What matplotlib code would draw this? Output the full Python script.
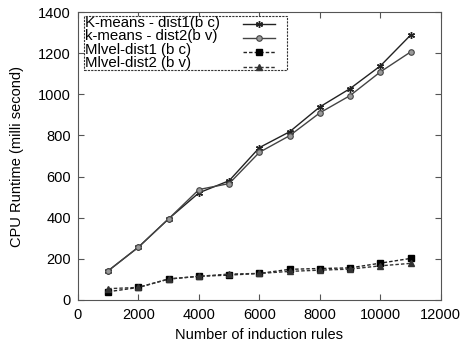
import matplotlib
matplotlib.use("Agg")
import matplotlib.pyplot as plt
from matplotlib.patches import Rectangle

plt.rcParams['font.family'] = ['Liberation Sans', 'DejaVu Sans']

rules = [1000, 2000, 3000, 4000, 5000, 6000, 7000, 8000, 9000, 10000, 11000]
kmeans_dist1 = [142, 257, 395, 521, 580, 741, 818, 939, 1028, 1138, 1288]
kmeans_dist2 = [142, 257, 395, 537, 566, 718, 799, 910, 994, 1109, 1206]
mlvel_dist1 = [40, 61, 102, 115, 121, 129, 149, 153, 156, 179, 202]
mlvel_dist2 = [55, 61, 102, 115, 126, 129, 139, 145, 150, 166, 178]

labels = ['K-means - dist1(b c)', 'k-means - dist2(b v)',
          'Mlvel-dist1 (b c)', 'Mlvel-dist2 (b v)']

fig = plt.figure(figsize=(4.67, 3.44), dpi=100)
ax = fig.add_axes([0.167, 0.128, 0.777, 0.837])

dash = (0, (2.5, 1.5))
h1, = ax.plot(rules, kmeans_dist1, color='#222222', lw=1.0, marker=(6, 2, 0),
              ms=5, mew=1.0)
h2, = ax.plot(rules, kmeans_dist2, color='#444444', lw=1.0, marker='o', ms=4,
              mfc='#999999', mec='#444444', mew=0.8)
h3, = ax.plot(rules, mlvel_dist1, color='#222222', lw=1.0, ls=dash,
              marker='s', ms=5, mfc='black', mec='black')
h4, = ax.plot(rules, mlvel_dist2, color='#333333', lw=1.0, ls=dash,
              marker='^', ms=4, mfc='#333333', mec='#333333')

ax.set_xlim(0, 12000)
ax.set_ylim(0, 1400)
ax.set_xticks(range(0, 12001, 2000))
ax.set_yticks(range(0, 1401, 200))
ax.tick_params(direction='in', top=True, right=True, labelsize=10.5,
               length=4, color='#555555')
ax.tick_params(axis='x', pad=6)
ax.tick_params(axis='y', pad=5)
for s in ax.spines.values():
    s.set_color('#555555')

ax.set_xlabel('Number of induction rules', fontsize=10.5, labelpad=4)
ax.set_ylabel('CPU Runtime (milli second)', fontsize=10.5, labelpad=10)

# legend: text on the left, keys on the right, dashed frame
ax.add_patch(Rectangle((0.017, 0.799), 0.558, 0.187, transform=ax.transAxes,
                       fill=True, facecolor='white', edgecolor='#333333',
                       lw=0.8, ls=(0, (2, 1)), zorder=5))
row_y = [0.963, 0.917, 0.868, 0.822]
for lab, yy in zip(labels, row_y):
    ax.text(0.02, yy, lab, transform=ax.transAxes, fontsize=10.8,
            ha='left', va='center', zorder=6)
leg = ax.legend([h1, h2, h3, h4], ['', '', '', ''], loc='upper right',
                bbox_to_anchor=(0.55, 0.99), frameon=False,
                fontsize=10.5, handlelength=2.2, handletextpad=0,
                labelspacing=0.02, borderpad=0.2, borderaxespad=0)
leg.set_zorder(7)

fig.savefig('out.png', dpi=100)
